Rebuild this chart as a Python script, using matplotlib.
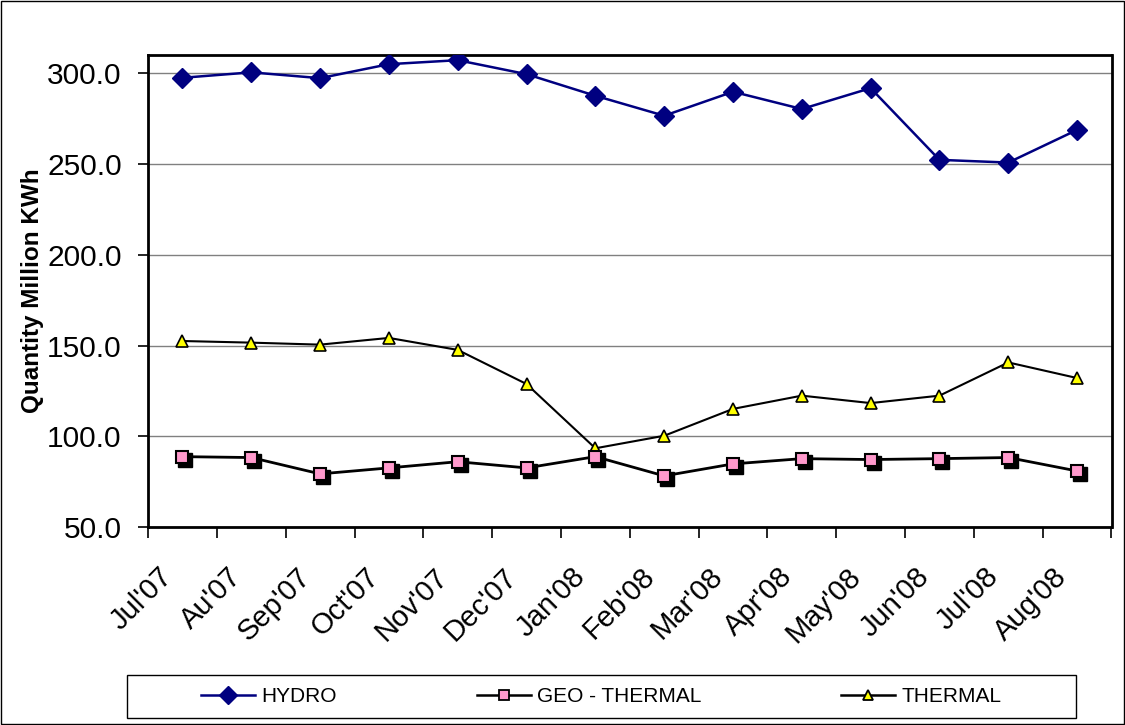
import numpy as np
import matplotlib
matplotlib.use("Agg")
import matplotlib.pyplot as plt
import matplotlib.transforms as mtransforms
from matplotlib.lines import Line2D

months = ["Jul'07", "Au'07", "Sep'07", "Oct'07", "Nov'07", "Dec'07", "Jan'08",
          "Feb'08", "Mar'08", "Apr'08", "May'08", "Jun'08", "Jul'08", "Aug'08"]
hydro = [297.5, 300.5, 297.3, 305.0, 307.2, 299.5, 287.6, 276.6, 289.8, 280.3,
         291.8, 252.3, 250.8, 268.8]
geo_thermal = [88.8, 88.3, 79.3, 82.6, 86.0, 82.6, 88.8, 78.2, 84.8, 87.7,
               87.2, 87.7, 88.3, 80.9]
thermal = [152.5, 151.6, 150.5, 154.2, 147.6, 128.8, 93.4, 100.3, 115.1, 122.4,
           118.3, 122.4, 140.7, 132.1]
yticks = [50, 100, 150, 200, 250, 300]

plt.rcParams["font.family"] = ["Liberation Sans", "DejaVu Sans"]

fig = plt.figure(figsize=(11.25, 7.25), dpi=100)
ax = fig.add_axes([0.1316, 0.273, 0.8564, 0.651])

x = np.arange(len(months))
navy = "#000080"

ax.plot(x, hydro, color=navy, lw=1.8, marker="D", ms=10, mfc=navy, mec=navy,
        zorder=4)
ax.plot(x, thermal, color="black", lw=1.5, marker="^", ms=9, mfc="#ffff00",
        mec="black", mew=1.2, zorder=4)
ax.plot(x, geo_thermal, color="black", lw=2, zorder=3)
# dark drop shadow behind the pink squares
shadow = mtransforms.offset_copy(ax.transData, fig=fig, x=3, y=-3, units="dots")
ax.plot(x, geo_thermal, ls="none", marker="s", ms=10, mfc="black", mec="black",
        transform=shadow, zorder=4)
ax.plot(x, geo_thermal, ls="none", marker="s", ms=9, mfc="#ff99cc", mec="black",
        mew=1.5, zorder=5)

ax.set_xlim(-0.5, len(months) - 0.5)
ax.set_ylim(50, 310)
ax.set_yticks(yticks)
ax.set_yticklabels([f"{v:.1f}" for v in yticks], fontsize=21.5)
ax.yaxis.grid(True, color="#808080", lw=1)
ax.set_axisbelow(True)
ax.tick_params(axis="y", direction="out", length=7, width=1.2, pad=12)

ax.set_xticks(np.arange(len(months) + 1) - 0.5)
ax.set_xticklabels([])
ax.tick_params(axis="x", direction="out", length=8, width=1.2)
for i, m in enumerate(months):
    ax.text(i - 0.35, -0.075, m, transform=ax.get_xaxis_transform(),
            rotation=45, ha="right", va="top", rotation_mode="anchor",
            fontsize=21)

for s in ax.spines.values():
    s.set_linewidth(2)
    s.set_color("black")

ax.set_ylabel("Quantity Million KWh", fontsize=17.5, fontweight="bold",
              labelpad=2)

# legend box
box = plt.Rectangle((0.113, 0.0097), 0.843, 0.059, transform=fig.transFigure,
                    fill=False, edgecolor="black", lw=1)
fig.patches.append(box)
handles = [
    Line2D([], [], color=navy, lw=1.8, marker="D", ms=9, mfc=navy, mec=navy),
    Line2D([], [], color="black", lw=1.8, marker="s", ms=7, mfc="#ff99cc",
           mec="black", mew=1.3),
    Line2D([], [], color="black", lw=1.8, marker="^", ms=7, mfc="#ffff00",
           mec="black", mew=1.3),
]
leg = fig.legend(handles, ["HYDRO", "GEO - THERMAL", "THERMAL"], ncol=3,
                 loc="center", bbox_to_anchor=(0.5345, 0.0392), frameon=False,
                 fontsize=15, handlelength=2.6, handletextpad=0.3,
                 columnspacing=6.7, borderaxespad=0)

# figure outer border
fig.patches.append(plt.Rectangle((0.001, 0.001), 0.998, 0.998,
                                 transform=fig.transFigure, fill=False,
                                 edgecolor="black", lw=1))

fig.savefig("out.png", dpi=100)
